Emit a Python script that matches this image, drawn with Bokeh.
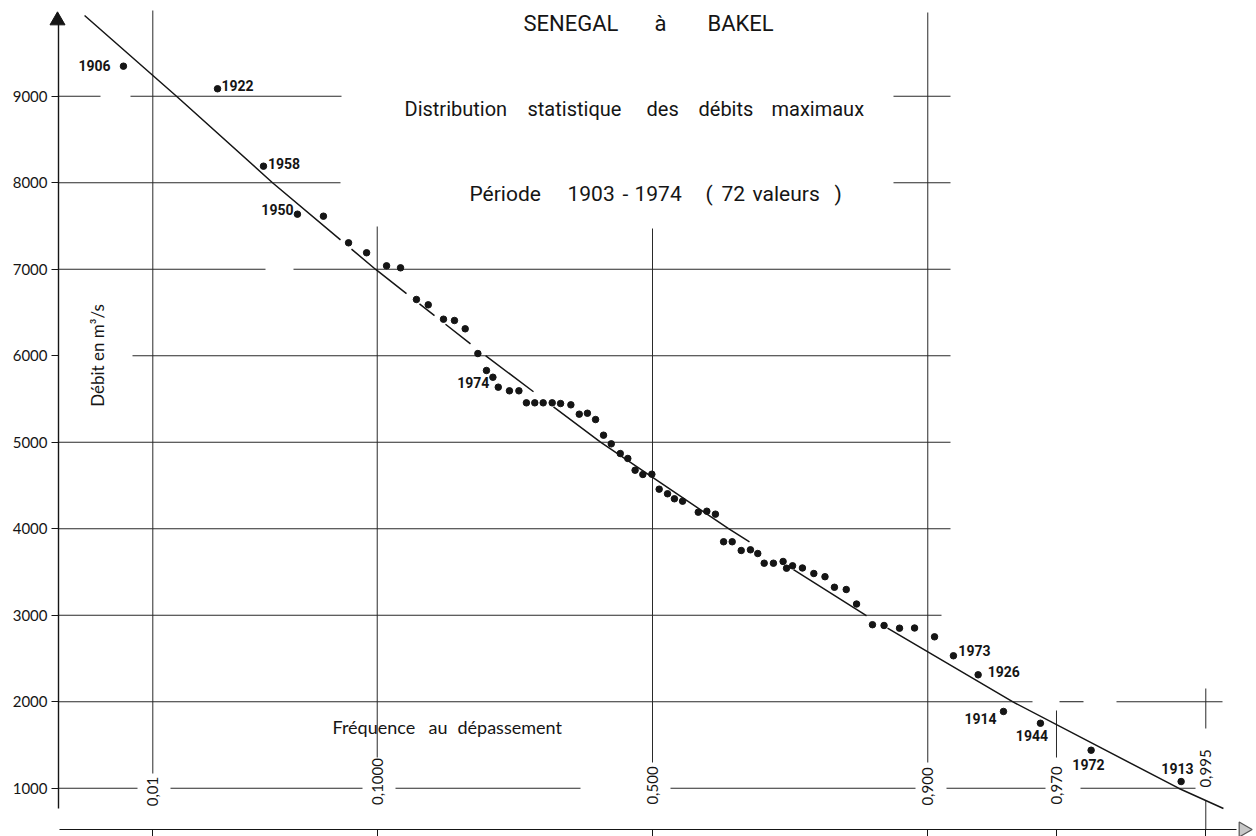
import math
from statistics import NormalDist
import numpy as np
from bokeh.plotting import figure
from bokeh.models import LinearAxis, FixedTicker, Range1d, Label, CustomJSTickFormatter
from bokeh.core.properties import value
from bokeh.embed import file_html
from bokeh.resources import INLINE

# ---------------- data ----------------
# reduced Gauss variable of each plotted point (normal probability paper)
u_reduite = [-2.463, -2.025, -1.811, -1.653, -1.532, -1.415, -1.331, -1.238, -1.173, -1.099,
             -1.044, -0.973, -0.922, -0.872, -0.813, -0.773, -0.743, -0.718, -0.666, -0.622,
             -0.587, -0.548, -0.509, -0.467, -0.428, -0.380, -0.341, -0.303, -0.265, -0.228,
             -0.192, -0.150, -0.115, -0.081, -0.045, -0.003, 0.031, 0.070, 0.102, 0.140,
             0.213, 0.253, 0.293, 0.331, 0.371, 0.413, 0.456, 0.490, 0.520, 0.563,
             0.608, 0.624, 0.652, 0.698, 0.751, 0.803, 0.847, 0.902, 0.950, 1.024,
             1.078, 1.150, 1.220, 1.313, 1.401, 1.516, 1.634, 1.806, 2.042, 2.461]
debits = [9347, 9086, 8191, 7636, 7613, 7305, 7190, 7039, 7016, 6650,
          6588, 6422, 6407, 6311, 6025, 5829, 5751, 5636, 5594, 5594,
          5455, 5455, 5455, 5455, 5447, 5432, 5324, 5335, 5262, 5081,
          4981, 4869, 4812, 4676, 4627, 4630, 4457, 4404, 4346, 4318,
          4191, 4202, 4168, 3849, 3849, 3748, 3756, 3713, 3601, 3601,
          3621, 3543, 3571, 3546, 3482, 3445, 3323, 3297, 3129, 2890,
          2881, 2850, 2852, 2750, 2531, 2311, 1887, 1751, 1439, 1077]

annees = ["1906", "1922", "1958", "1950", "1974", "1973", "1926", "1914", "1944", "1972", "1913"]
rang_annee = [1, 2, 3, 4, 17, 65, 66, 67, 68, 69, 70]

# fitted distribution curve
courbe_u = [-2.644, -2.216, -1.769, -1.290, -0.777, -0.242, 0.354, 0.992, 1.676, 2.449, 2.658]
courbe_q = [9933, 9000, 8000, 7000, 6000, 5000, 4000, 3000, 2000, 1000, 765]

freq_ticks = [0.01, 0.1, 0.5, 0.9, 0.97, 0.995]
freq_labels = ["0,01", "0,1000", "0,500", "0,900", "0,970", "0,995"]
q_ticks = [1000, 2000, 3000, 4000, 5000, 6000, 7000, 8000, 9000]

# ---------------- layout helpers (reference pixel -> data) ----------------
def u_of(px):
    return (px - 652.0) / 214.8

def q_of(py):
    return 1000.0 + (787.7 - py) / 0.0865

N = NormalDist()
freq_u = [N.inv_cdf(f) for f in freq_ticks]

INK = "#151515"
GRID = "#2a2a2a"
TFONT = "Roboto"

p = figure(width=1256, height=836, x_range=Range1d(u_of(0), u_of(1256)),
           y_range=Range1d(q_of(836), q_of(0)), output_backend="svg",
           toolbar_location=None, min_border=0, x_axis_type=None, y_axis_type=None,
           outline_line_color=None, background_fill_color="white", border_fill_color="white")

# ---- horizontal grid pieces (reference x spans) ----
h_grid = {
    9000: [(58, 100), (130, 341), (893, 950)],
    8000: [(58, 340), (893, 950)],
    7000: [(58, 265), (293, 950)],
    6000: [(132, 950)],
    5000: [(58, 950)],
    4000: [(58, 950)],
    3000: [(58, 941)],
    2000: [(58, 1032), (1059, 1083), (1116, 1222)],
    1000: [(58, 137), (170, 362), (395, 580), (670, 915), (946, 1045), (1080, 1195)],
}
hx0, hx1, hy = [], [], []
for q in q_ticks:
    for a, b in h_grid[q]:
        hx0.append(u_of(a)); hx1.append(u_of(b)); hy.append(q)
p.segment(x0=hx0, y0=hy, x1=hx1, y1=hy, line_color=GRID, line_width=1.1)

# ---- vertical grid pieces (reference y spans) ----
v_grid = [[(10, 773)], [(226, 757)], [(228, 762)], [(12, 762)], [(710, 757)], [(688, 728), (800, 829)]]
vx, vy0, vy1 = [], [], []
for i, spans in enumerate(v_grid):
    for a, b in spans:
        vx.append(freq_u[i]); vy0.append(q_of(a)); vy1.append(q_of(b))
p.segment(x0=vx, y0=vy0, x1=vx, y1=vy1, line_color=GRID, line_width=1.0)

# frequency labels written along the vertical lines
label_cy = [791, 781, 785, 786, 785, 768]
p.text(x=freq_u, y=[q_of(c) for c in label_cy], text=freq_labels, angle=math.pi / 2,
       text_align="center", text_baseline="middle", text_font=value("Lato"),
       text_font_size="15px", text_color=INK)

# ---- axes ----
yaxis = LinearAxis(ticker=FixedTicker(ticks=q_ticks), fixed_location=u_of(58),
                   bounds=(q_of(808), q_of(20)), major_tick_in=0, major_tick_out=7,
                   minor_tick_out=0, minor_tick_in=0, major_label_standoff=4,
                   axis_line_width=1.4, axis_line_color=INK, major_tick_line_color=INK,
                   major_tick_line_width=1.1,
                   major_label_text_font="Lato", major_label_text_font_size="15px",
                   major_label_text_color=INK, major_label_text_baseline="bottom")
p.add_layout(yaxis, "left")

xaxis = LinearAxis(ticker=FixedTicker(ticks=freq_u), fixed_location=q_of(829),
                   bounds=(u_of(59), u_of(1236)), major_tick_in=0, major_tick_out=7,
                   minor_tick_out=0, minor_tick_in=0, axis_line_width=1.2,
                   axis_line_color=INK, major_tick_line_color=INK,
                   formatter=CustomJSTickFormatter(code="return ''"),
                   major_label_text_font_size="0px", major_label_standoff=0)
p.add_layout(xaxis, "below")

# arrow heads
p.scatter(x=[u_of(57)], y=[q_of(20)], marker="triangle", size=15, fill_color=INK, line_color=INK)
p.scatter(x=[u_of(1243)], y=[q_of(829)], marker="triangle", angle=-math.pi / 2, size=15,
          fill_color="#c8c8c8", line_color="#555555", line_width=1.2)

# ---- fitted curve (hand-drawn breaks where it runs between the points) ----
breaks_px = [(340, 351), (406, 419), (434, 445), (470, 487), (533, 553), (749, 793), (866, 887)]
cu = list(courbe_u)
cq = list(courbe_q)
for a, b in breaks_px:
    ua, ub = u_of(a), u_of(b)
    qa = float(np.interp(ua, courbe_u, courbe_q))
    qb = float(np.interp(ub, courbe_u, courbe_q))
    cu += [ua, (ua + ub) / 2, ub]
    cq += [qa, float("nan"), qb]
order = sorted(range(len(cu)), key=lambda k: cu[k])
p.line([cu[k] for k in order], [cq[k] for k in order], line_color=INK, line_width=1.5)

# observations
p.scatter(u_reduite, debits, marker="circle", size=6.5, fill_color=INK, line_color=INK)

# year labels next to some points
dx = [-29, 20, 20.5, -20, -19.6, 21, 25.6, -23, -8.5, -2.7, -3.7]
dy = [-1, -3, -3, -5, 5, -5, -3.6, 7, 12, 14.3, -13]
p.text(x=[u_reduite[r - 1] for r in rang_annee], y=[debits[r - 1] for r in rang_annee],
       text=annees, x_offset=dx, y_offset=dy, text_align="center", text_baseline="middle",
       text_font=value(TFONT), text_font_style="bold", text_font_size="14px", text_color=INK)

# ---- titles ----
def word(txt, px, py, size):
    p.add_layout(Label(x=u_of(px), y=q_of(py), text=txt, text_align="left",
                       text_baseline="middle", text_font=TFONT, text_font_size=size,
                       text_color=INK))

for t, px in zip(["SENEGAL", "à", "BAKEL"], [523, 654, 707]):
    word(t, px, 23, "22px")
for t, px in zip(["Distribution", "statistique", "des", "débits", "maximaux"],
                 [404, 527, 646, 698, 771]):
    word(t, px, 108, "20px")
for t, px in zip(["Période", "1903", "-", "1974", "(", "72", "valeurs", ")"],
                 [469, 567, 622, 634, 705, 721, 752, 834]):
    word(t, px, 193, "21px")

# axis titles
p.add_layout(Label(x=u_of(97), y=q_of(355), text="Débit en m³/s", angle=math.pi / 2,
                   text_align="center", text_baseline="middle", text_font="Lato",
                   text_font_size="17px", text_color=INK))
for t, px in zip(["Fréquence", "au", "dépassement"], [332, 428, 457]):
    p.add_layout(Label(x=u_of(px), y=q_of(726), text=t, text_align="left",
                       text_baseline="middle", text_font="Lato", text_font_size="18px",
                       text_color=INK))

open("out.html", "w").write(file_html(p, INLINE))
